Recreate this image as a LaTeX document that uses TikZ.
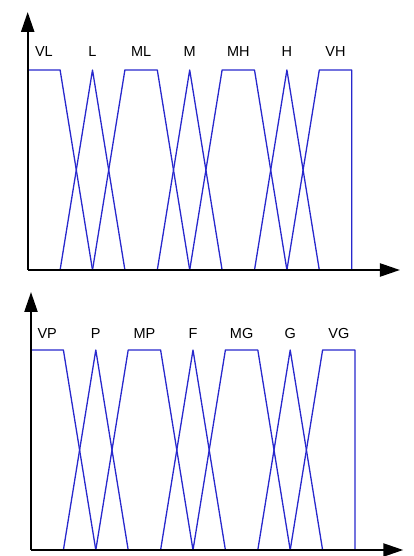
\documentclass[tikz,border=0pt]{standalone}
\usepackage{fontspec}
\setmainfont{Liberation Sans}
\usetikzlibrary{arrows.meta}
\definecolor{setblue}{RGB}{40,40,205}

\tikzset{
  axisline/.style={line width=2.3pt,-{Triangle[length=20pt,width=13pt]}},
  mfline/.style={setblue,line width=1.3pt,line join=round},
  setlabel/.style={font=\fontsize{14.5}{16}\selectfont,inner sep=0pt}
}

% membership functions on a 0..10 grid, height 1
\newcommand{\drawsets}{%
  \draw[mfline] (0,1)--(1,1)--(2,0);
  \draw[mfline] (1,0)--(2,1)--(3,0);
  \draw[mfline] (2,0)--(3,1)--(4,1)--(5,0);
  \draw[mfline] (4,0)--(5,1)--(6,0);
  \draw[mfline] (5,0)--(6,1)--(7,1)--(8,0);
  \draw[mfline] (7,0)--(8,1)--(9,0);
  \draw[mfline] (8,0)--(9,1)--(10,1)--(10,0);
  \coordinate (o) at (0,0);
  \coordinate (ytip) at (0,1.29);
  \coordinate (xtip) at (11.49,0);
  \draw[axisline] (o)--(ytip);
  \draw[axisline] (o)--(xtip);
}

\begin{document}
\begin{tikzpicture}[x=1pt,y=1pt]
    \useasboundingbox (0,0) rectangle (414,556);
    % upper chart
    \begin{scope}[shift={(27.7,286)},x=32.4pt,y=200pt]
        \drawsets
        \foreach \lbl/\px in {VL/0.5,L/2,ML/3.5,M/5,MH/6.5,H/8,VH/9.5}
            \node[setlabel] (up-\lbl) at (\px,1.09) {\lbl};
    \end{scope}
    % lower chart
    \begin{scope}[shift={(31,6)},x=32.4pt,y=200pt]
        \drawsets
        \foreach \lbl/\px in {VP/0.5,P/2,MP/3.5,F/5,MG/6.5,G/8,VG/9.5}
            \node[setlabel] (lo-\lbl) at (\px,1.08) {\lbl};
    \end{scope}
\end{tikzpicture}
\end{document}
